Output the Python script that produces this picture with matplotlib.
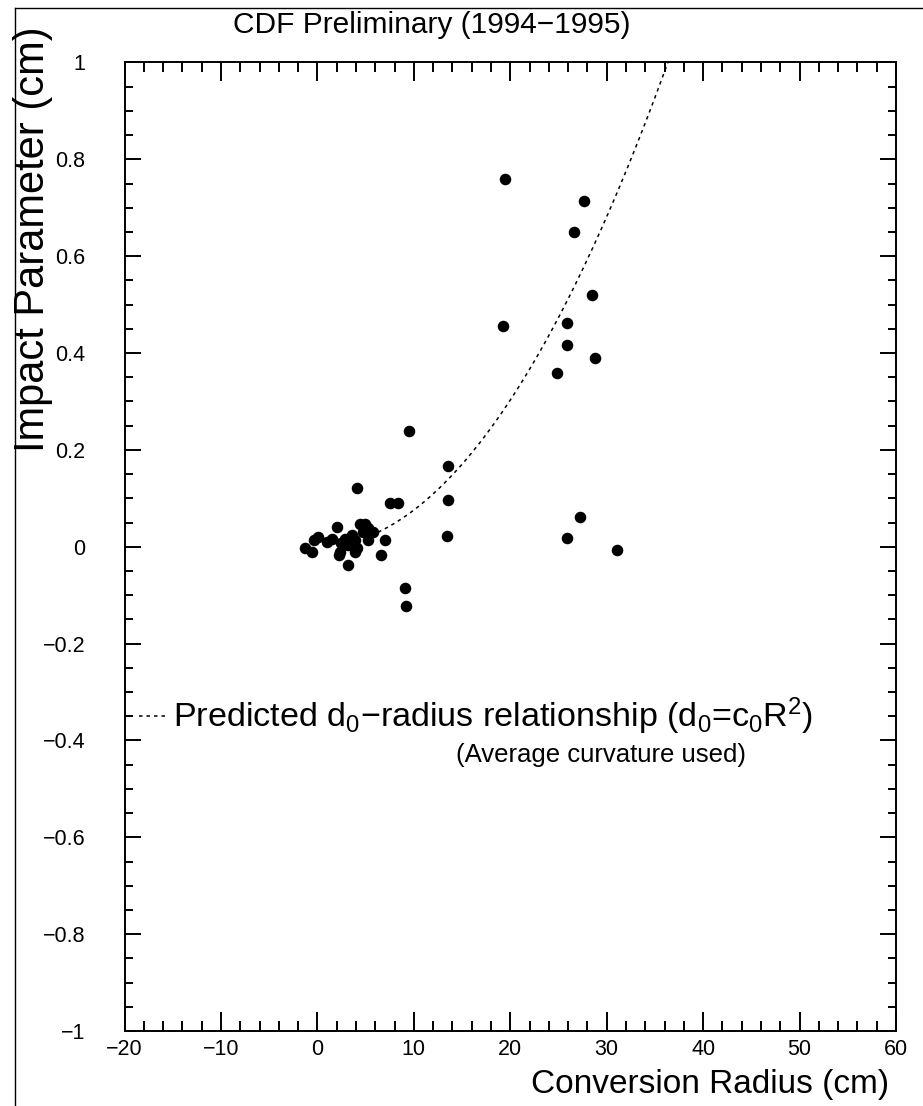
import numpy as np
import matplotlib
matplotlib.use("Agg")
import matplotlib.pyplot as plt
from matplotlib.lines import Line2D
from matplotlib.ticker import MultipleLocator, FuncFormatter

plt.rcParams['font.family'] = ['Liberation Sans', 'DejaVu Sans']
plt.rcParams['mathtext.fontset'] = 'custom'
plt.rcParams['mathtext.rm'] = 'Liberation Sans'
plt.rcParams['mathtext.it'] = 'Liberation Sans'

# conversion radius (cm) and impact parameter (cm)
radius = [19.45, 27.7, 26.6, 28.5, 25.9, 19.25, 25.9, 28.8, 24.85, 9.5,
          13.55, 13.55, 13.45, 4.08, 7.5, 8.35, 9.08, 9.19, 7.0, 6.56,
          3.2, 2.24, 2.07, -1.3, -0.4, -0.6, 0.1, 0.96, 1.48, 2.5,
          2.86, 3.2, 3.56, 3.9, 4.07, 4.4, 4.9, 4.76, 5.28, 5.8,
          5.28, 2.34, 3.9, 25.9, 27.2, 31.1]
d0 = [0.759, 0.714, 0.650, 0.520, 0.462, 0.455, 0.416, 0.389, 0.359, 0.238,
      0.166, 0.096, 0.022, 0.121, 0.090, 0.090, -0.086, -0.122, 0.014, -0.017,
      -0.038, -0.017, 0.041, -0.003, 0.014, -0.010, 0.021, 0.010, 0.017, 0.007,
      0.017, 0.004, 0.024, 0.014, -0.003, 0.048, 0.048, 0.031, 0.038, 0.031,
      0.014, -0.010, -0.010, 0.018, 0.061, -0.007]

# predicted relationship d0 = c0 * R^2 (average curvature)
c0 = 7.57e-4
r_start, r_end = 6.3, 36.4

fig = plt.figure(figsize=(9.23, 11.06), dpi=100)
ax = fig.add_axes([0.1349, 0.0678, 0.9707 - 0.1349, 0.9435 - 0.0678])

dash = (0, (2.3, 2.6))
R = np.linspace(r_start, r_end, 200)
ax.plot(R, c0 * R**2, color='black', lw=1.1, ls=dash)
ax.plot(radius, d0, 'o', color='black', ms=7.3, mec='black')

ax.set_xlim(-20, 60)
ax.set_ylim(-1, 1)
ax.xaxis.set_major_locator(MultipleLocator(10))
ax.xaxis.set_minor_locator(MultipleLocator(2))
ax.yaxis.set_major_locator(MultipleLocator(0.2))
ax.yaxis.set_minor_locator(MultipleLocator(0.05))
fmt = FuncFormatter(lambda v, p: ('%g' % round(v, 3)).replace('-', '\u2212') if abs(v) > 1e-9 else '0')
ax.xaxis.set_major_formatter(fmt)
ax.yaxis.set_major_formatter(fmt)

ax.tick_params(which='both', direction='in', top=True, right=True, width=1.4,
               labelsize=15.5, colors='black')
ax.tick_params(axis='x', which='major', length=14, pad=6)
ax.tick_params(axis='x', which='minor', length=7)
ax.tick_params(axis='y', which='major', length=11.5, pad=28)
ax.tick_params(axis='y', which='minor', length=5.5)
for s in ax.spines.values():
    s.set_linewidth(1.4)

fig.text(0.468, 0.977, 'CDF Preliminary (1994\u22121995)', ha='center', va='center', fontsize=21.5)
fig.text(0.963, 0.019, 'Conversion Radius (cm)', ha='right', va='center', fontsize=24)
fig.text(0.036, 0.5913, 'Impact Parameter (cm)', ha='center', va='bottom', rotation=90, fontsize=30)

# outer frame lines of the original page
fig.add_artist(Line2D([15 / 923, 1], [1 - 8 / 1106, 1 - 8 / 1106], color='black', lw=1))
fig.add_artist(Line2D([15 / 923, 15 / 923], [0, 1 - 8 / 1106], color='black', lw=1))

ax.plot([0.019, 0.054], [0.325, 0.325], transform=ax.transAxes, color='black',
        lw=1.1, ls=dash)
ax.text(0.063, 0.325, r'Predicted d$_0$$\mathrm{-}$radius relationship (d$_0$=c$_0$R$^2$)',
        transform=ax.transAxes, ha='left', va='center', fontsize=24.6)
ax.text(0.618, 0.285, '(Average curvature used)', transform=ax.transAxes,
        ha='center', va='center', fontsize=18.5)

fig.savefig('out.png', dpi=100)
